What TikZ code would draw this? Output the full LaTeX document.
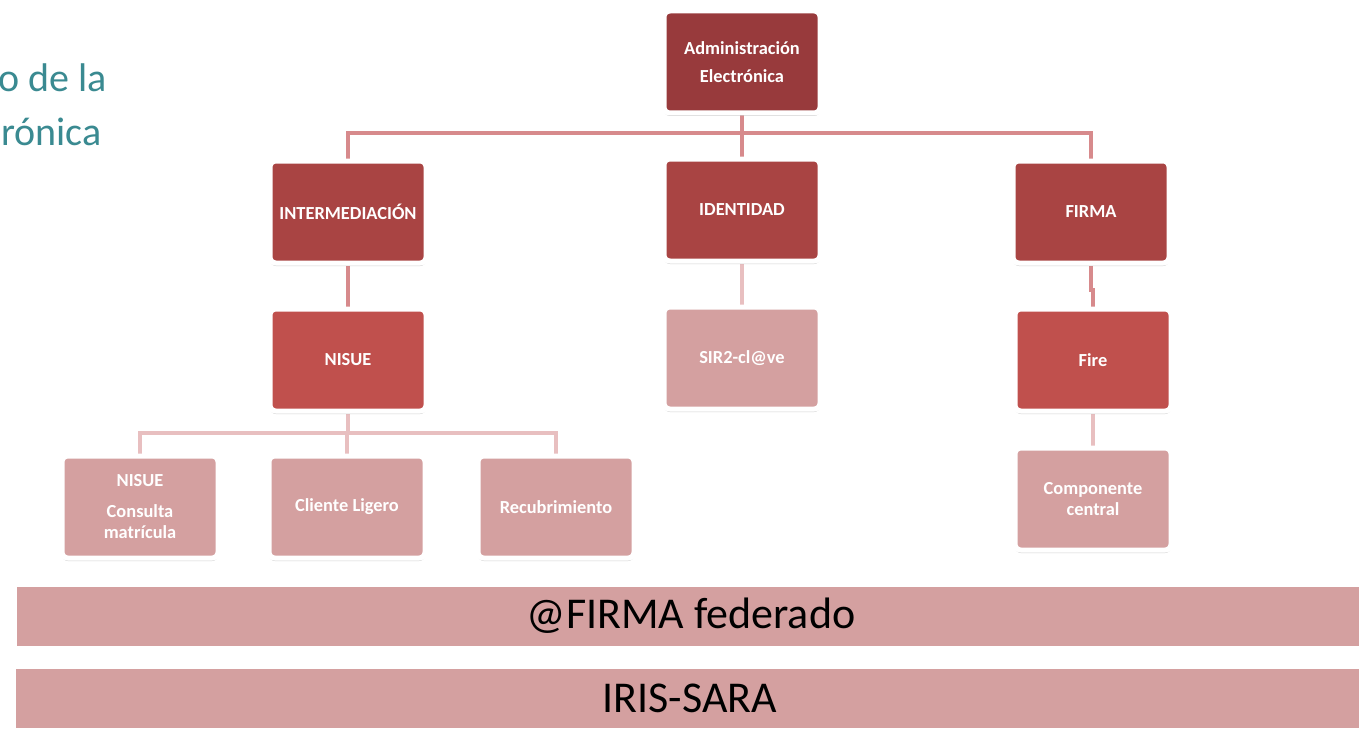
\documentclass[tikz,border=0pt]{standalone}
\usepackage{fontspec}
\setmainfont{Carlito}
\usetikzlibrary{shadows,backgrounds}
\definecolor{cdark}{HTML}{983A3C}
\definecolor{cmid}{HTML}{A94443}
\definecolor{cred}{HTML}{C0504D}
\definecolor{clight}{HTML}{D4A0A0}
\definecolor{lineA}{HTML}{D78A8C}
\definecolor{lineB}{HTML}{E8BFC0}
\definecolor{teal}{HTML}{3A8A91}
\tikzset{
  box/.style={rectangle, rounded corners=3pt, draw=white, line width=2.5pt,
    minimum width=78pt, minimum height=51pt, text=white, align=center,
    font=\bfseries\fontsize{9.2}{10.5}\selectfont,
    drop shadow={shadow xshift=0pt, shadow yshift=-1.5pt, opacity=0.35, fill=gray}},
  bar/.style={rectangle, draw=white, line width=2.5pt, fill=clight,
    minimum width=677pt, minimum height=32pt, text=black,
    font=\fontsize{22}{24}\selectfont,
    drop shadow={shadow xshift=0pt, shadow yshift=-1.5pt, opacity=0.35, fill=gray}},
  conA/.style={draw=lineA, line width=2pt},
  conB/.style={draw=lineB, line width=2pt},
  title/.style={text=teal, font=\fontsize{20}{22}\selectfont, anchor=east, inner sep=0pt}
}
\begin{document}
\begin{tikzpicture}[x=0.5pt,y=-0.5pt]
\useasboundingbox (0,0) rectangle (1359,733);
\clip (0,0) rectangle (1359,733);
% title fragment
\node[title] (t1) at (107,78) {o de la};
\node[title] (t2) at (102,132) {rónica};
% level 0
\node[box, fill=cdark, font=\bfseries\fontsize{9.2}{14}\selectfont] (admin) at (742,62) {Administración\\Electrónica};
% level 1
\node[box, fill=cmid] (inter) at (348,212) {INTERMEDIACIÓN};
\node[box, fill=cmid] (ident) at (742,210) {IDENTIDAD};
\node[box, fill=cmid] (firma) at (1091,212) {FIRMA};
% level 2
\node[box, fill=cred] (nisue) at (348,360) {NISUE};
\node[box, fill=clight] (sir) at (742,358) {SIR2-cl@ve};
\node[box, fill=cred] (fire) at (1093,360) {Fire};
% level 3
\node[box, fill=clight] (consulta) at (140,507) {NISUE\\[5pt]Consulta\\matrícula};
\node[box, fill=clight] (cliente) at (347,507) {Cliente Ligero};
\node[box, fill=clight] (recub) at (556,507) {Recubrimiento};
\node[box, fill=clight] (comp) at (1093,499) {Componente\\central};
% bars
\node[bar] (afirma) at (691,616) {@FIRMA federado};
\node[bar] (iris) at (690,698) {IRIS-SARA};
% connectors
\coordinate (row1) at (0,133);
\coordinate (row3) at (0,433);
\coordinate (jog) at (0,290);
\begin{pgfonlayer}{background}
\fill[white] (0,0) rectangle (1359,733);
\draw[conA] (admin.south) -- (admin.south |- row1);
\draw[conA] (inter.north) -- (inter.north |- row1) -- (firma.north |- row1) -- (firma.north);
\draw[conA] (ident.north) -- (ident.north |- row1);
\draw[conA] (inter.south) -- (nisue.north);
\draw[conA] (firma.south) -- (firma.south |- jog) -- (fire.north |- jog) -- (fire.north);
\draw[conB] (ident.south) -- (sir.north);
\draw[conB] (fire.south) -- (comp.north);
\draw[conB] (nisue.south) -- (nisue.south |- row3);
\draw[conB] (consulta.north) -- (consulta.north |- row3) -- (recub.north |- row3) -- (recub.north);
\draw[conB] (cliente.north) -- (cliente.north |- row3);
\end{pgfonlayer}
\end{tikzpicture}
\end{document}
